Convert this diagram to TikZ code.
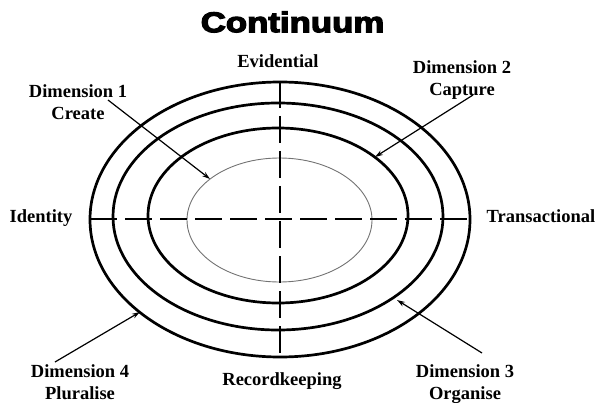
\documentclass[tikz,border=0pt]{standalone}
\usepackage{fontspec}
\usepackage{graphicx}
\setmainfont{Liberation Serif}
\newfontfamily\titlefont[FakeBold=4]{Liberation Sans}
\usetikzlibrary{arrows.meta}
\begin{document}
\begin{tikzpicture}[x=1pt,y=-1pt,
  ring/.style={line width=2.7pt},
  innerring/.style={line width=0.9pt, black!55},
  axisline/.style={line width=2.4pt, dash pattern=on 27pt off 8pt},
  lbl/.style={font=\fontsize{18.5}{21.5}\selectfont\bfseries, align=center, inner sep=0pt},
  pointer/.style={line width=1.2pt, -{Stealth[length=8pt,width=5pt]}}]
\useasboundingbox (0,0) rectangle (601,403);
% title
\node[font=\titlefont\fontsize{28.5}{30}\selectfont\bfseries, inner sep=0pt] (title) at (292.5,22) {\scalebox{1.22}[1]{Continuum}};
% rings
\draw[ring] (280,219.5) ellipse [x radius=190, y radius=137.5];
\draw[ring] (278,216.5) ellipse [x radius=165, y radius=113.5];
\draw[ring] (278,215.5) ellipse [x radius=130, y radius=87.5];
\draw[innerring] (279.5,220) ellipse [x radius=92.5, y radius=62];
% axes
\coordinate (vtop) at (280,81);
\coordinate (vbot) at (280,357);
\coordinate (hleft) at (90,219);
\coordinate (hright) at (471,219);
\draw[axisline] (vtop) -- (vbot);
\draw[axisline] (hleft) -- (hright);
% axis labels
\node[lbl, anchor=base] (evid) at (278,68) {Evidential};
\node[lbl, anchor=base] (ident) at (41,222) {Identity};
\node[lbl, anchor=base] (trans) at (541,222) {Transactional};
\node[lbl, anchor=base] (reck) at (282,385) {Recordkeeping};
% dimension labels
\node[lbl] (dim1) at (78,102) {Dimension 1\\Create};
\node[lbl] (dim2) at (462,80) {Dimension 2\\Capture};
\node[lbl] (dim4) at (80,382) {Dimension 4\\Pluralise};
\node[lbl] (dim3) at (465,384) {Dimension 3\\Organise};
% pointers
\coordinate (p1s) at (108,100);
\coordinate (p1e) at (210,179);
\coordinate (p2s) at (473,95);
\coordinate (p2e) at (375,157);
\coordinate (p4s) at (55,362);
\coordinate (p4e) at (140,312);
\coordinate (p3s) at (482,353);
\coordinate (p3e) at (397,300);
\draw[pointer] (p1s) -- (p1e);
\draw[pointer] (p2s) -- (p2e);
\draw[pointer] (p4s) -- (p4e);
\draw[pointer] (p3s) -- (p3e);
\end{tikzpicture}
\end{document}
